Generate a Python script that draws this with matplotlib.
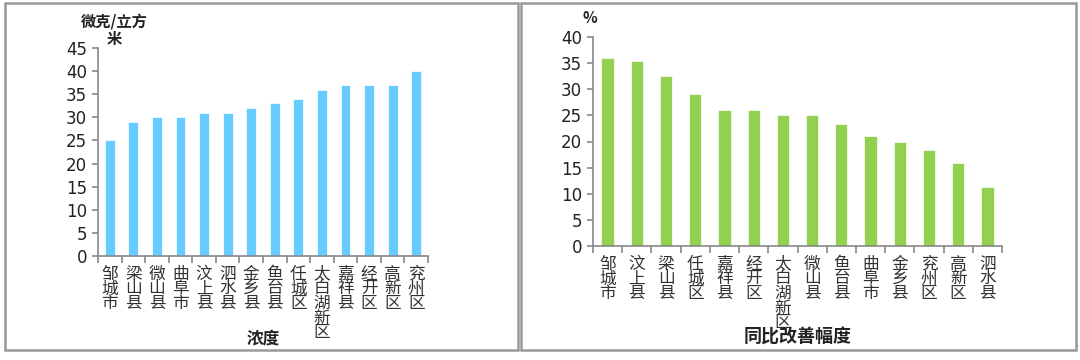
import matplotlib
matplotlib.use('Agg')
import matplotlib.pyplot as plt
from matplotlib.patches import Rectangle

plt.rcParams['font.family'] = ['Noto Sans CJK SC', 'DejaVu Sans']

# 浓度 (微克/立方米)
conc_names = ['邹城市', '梁山县', '微山县', '曲阜市', '汶上县', '泗水县', '金乡县',
              '鱼台县', '任城区', '太白湖新区', '嘉祥县', '经开区', '高新区', '兖州区']
conc_vals = [25, 29, 30, 30, 31, 31, 32, 33, 34, 36, 37, 37, 37, 40]

# 同比改善幅度 (%)
impr_names = ['邹城市', '汶上县', '梁山县', '任城区', '嘉祥县', '经开区', '太白湖新区',
              '微山县', '鱼台县', '曲阜市', '金乡县', '兖州区', '高新区', '泗水县']
impr_vals = [36, 35.4, 32.5, 29.1, 26, 26, 25, 25, 23.3, 21, 20, 18.4, 15.8, 11.3]

W, H = 1080, 360
fig = plt.figure(figsize=(W / 100, H / 100), dpi=100)

# panel frames
for x0, x1 in [(5, 518), (521, 1076)]:
    fig.patches.append(Rectangle((x0 / W, 1 - 350 / H), (x1 - x0) / W, (350 - 3) / H,
                                 transform=fig.transFigure, fill=False,
                                 edgecolor='#999999', linewidth=1.8))


def label(txt, x, y, size):
    fig.text(x / W, 1 - y / H, txt, ha='center', va='center',
             fontsize=size, fontweight='bold', color='#222222')


def draw(ax, names, vals, color, ymax):
    n = len(vals)
    ax.bar(range(n), vals, width=0.42, color=color, edgecolor='white', linewidth=0.5)
    ax.set_xlim(-0.5, n - 0.5)
    ax.set_ylim(0, ymax)
    ax.set_yticks(range(0, ymax + 1, 5))
    ax.set_xticks([i - 0.5 for i in range(n + 1)])
    ax.set_xticklabels([])
    ax.set_xticks(range(n), minor=True)
    ax.set_xticklabels(['\n'.join(s) for s in names], minor=True,
                       fontsize=12, color='#333333', linespacing=0.82, va='top')
    ax.tick_params(axis='x', which='minor', length=0, pad=7)
    ax.tick_params(axis='x', which='major', length=5, color='#888888', width=1.2)
    ax.tick_params(axis='y', length=4, color='#888888', width=1.2, labelsize=12,
                   labelcolor='#222222', pad=4)
    for lab in ax.get_yticklabels():
        lab.set_family(['DejaVu Sans'])
    for s in ['top', 'right']:
        ax.spines[s].set_visible(False)
    for s in ['left', 'bottom']:
        ax.spines[s].set_color('#888888')
        ax.spines[s].set_linewidth(1.2)


ax1 = fig.add_axes([98 / W, 1 - 256 / H, (428 - 98) / W, (256 - 48) / H])
draw(ax1, conc_names, conc_vals, '#66CCFF', 45)
label('微克/立方', 114, 22, 11)
label('米', 114, 39, 11)
label('浓度', 263, 338, 12)

ax2 = fig.add_axes([593 / W, 1 - 246 / H, (1002 - 593) / W, (246 - 37) / H])
draw(ax2, impr_names, impr_vals, '#92D050', 40)
label('%', 590, 18, 11)
label('同比改善幅度', 798, 337, 13)

fig.text(1078 / W, 1 - 343 / H, '.', fontsize=6, color='#666666', ha='center', va='center')

plt.savefig('out.png', dpi=100)
plt.close()
